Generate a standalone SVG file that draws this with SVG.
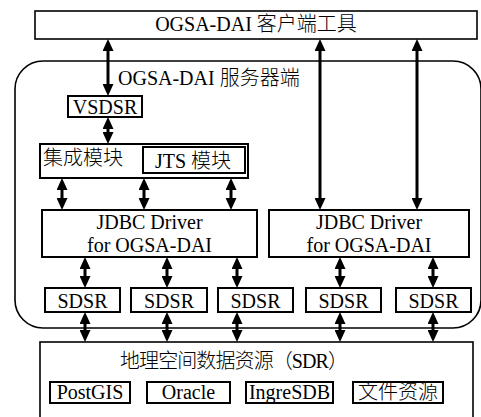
<svg xmlns="http://www.w3.org/2000/svg" width="481" height="417" viewBox="0 0 481 417">
<style>
  text { font-family: "Liberation Serif", "Noto Sans CJK SC", serif; font-size: 20px; font-weight: 300; fill: #000; }
  .c { text-anchor: middle; }
  .box { fill: #fff; stroke: #000; stroke-width: 2; }
  .thin { fill: #fff; stroke: #000; stroke-width: 1.6; }
  .cont { fill: none; stroke: #000; stroke-width: 1.6; }
  .arr { stroke: #000; stroke-width: 3; fill: none; marker-start: url(#ah); marker-end: url(#ah); }
</style>
<defs>
  <marker id="ah" viewBox="0 0 12 11" refX="8" refY="5.5" markerWidth="12" markerHeight="11" markerUnits="userSpaceOnUse" orient="auto-start-reverse">
    <path d="M0,0 L12,5.5 L0,11 z" fill="#000"/>
  </marker>
</defs>
<rect width="481" height="417" fill="#fff"/>

<g id="server">
  <rect class="cont" x="15" y="61" width="466" height="267" rx="28" ry="28"/>
  <text x="118" y="85">OGSA-DAI 服务器端</text>
</g>

<g id="client">
  <rect class="thin" x="35" y="11" width="442" height="28"/>
  <text class="c" x="256" y="31">OGSA-DAI 客户端工具</text>
</g>

<g id="vsdsr">
  <rect class="box" x="68" y="96" width="74" height="21"/>
  <text class="c" x="105" y="114">VSDSR</text>
</g>

<g id="integration">
  <rect class="box" x="40" y="144" width="208" height="34"/>
  <text x="43" y="165">集成模块</text>
  <g id="jts">
    <rect class="box" x="143" y="147" width="102" height="26"/>
    <text class="c" x="193" y="168">JTS 模块</text>
  </g>
</g>

<g id="jdbc1">
  <rect class="box" x="42" y="210" width="215" height="47"/>
  <text class="c" x="149.5" y="229">JDBC Driver</text>
  <text class="c" x="149.5" y="252">for OGSA-DAI</text>
</g>

<g id="jdbc2">
  <rect class="box" x="269" y="210" width="200" height="47"/>
  <text class="c" x="369" y="229">JDBC Driver</text>
  <text class="c" x="369" y="252">for OGSA-DAI</text>
</g>

<g id="sdsr1"><rect class="box" x="45" y="288" width="75" height="24"/><text class="c" x="82.5" y="308">SDSR</text></g>
<g id="sdsr2"><rect class="box" x="131" y="288" width="76" height="24"/><text class="c" x="169" y="308">SDSR</text></g>
<g id="sdsr3"><rect class="box" x="218" y="288" width="75" height="24"/><text class="c" x="255.5" y="308">SDSR</text></g>
<g id="sdsr4"><rect class="box" x="306" y="288" width="75" height="24"/><text class="c" x="343.5" y="308">SDSR</text></g>
<g id="sdsr5"><rect class="box" x="396" y="288" width="75" height="24"/><text class="c" x="433.5" y="308">SDSR</text></g>

<g id="sdr">
  <rect class="thin" x="40" y="342" width="433" height="80"/>
  <text x="120" y="368" textLength="228" lengthAdjust="spacing">地理空间数据资源（SDR）</text>
  <g id="postgis"><rect class="box" x="50" y="382" width="80" height="21"/><text class="c" x="90" y="399">PostGIS</text></g>
  <g id="oracle"><rect class="box" x="147" y="382" width="83" height="21"/><text class="c" x="188.5" y="399">Oracle</text></g>
  <g id="ingresdb"><rect class="box" x="246" y="382" width="87" height="21"/><text class="c" x="289.5" y="399">IngreSDB</text></g>
  <g id="files"><rect class="box" x="353" y="382" width="90" height="21"/><text class="c" x="398" y="399">文件资源</text></g>
</g>

<g id="connectors">
  <line class="arr" x1="108" y1="43" x2="108" y2="92"/>
  <line class="arr" x1="108" y1="121" x2="108" y2="140"/>
  <line class="arr" x1="62" y1="182" x2="62" y2="206"/>
  <line class="arr" x1="144" y1="182" x2="144" y2="206"/>
  <line class="arr" x1="231" y1="182" x2="231" y2="206"/>
  <line class="arr" x1="320" y1="43" x2="320" y2="206"/>
  <line class="arr" x1="417" y1="43" x2="417" y2="206"/>
  <line class="arr" x1="85" y1="261" x2="85" y2="284"/>
  <line class="arr" x1="167" y1="261" x2="167" y2="284"/>
  <line class="arr" x1="237" y1="261" x2="237" y2="284"/>
  <line class="arr" x1="340" y1="261" x2="340" y2="284"/>
  <line class="arr" x1="433" y1="261" x2="433" y2="284"/>
  <line class="arr" x1="85" y1="316" x2="85" y2="338"/>
  <line class="arr" x1="167" y1="316" x2="167" y2="338"/>
  <line class="arr" x1="237" y1="316" x2="237" y2="338"/>
  <line class="arr" x1="340" y1="316" x2="340" y2="338"/>
  <line class="arr" x1="433" y1="316" x2="433" y2="338"/>
</g>
</svg>
